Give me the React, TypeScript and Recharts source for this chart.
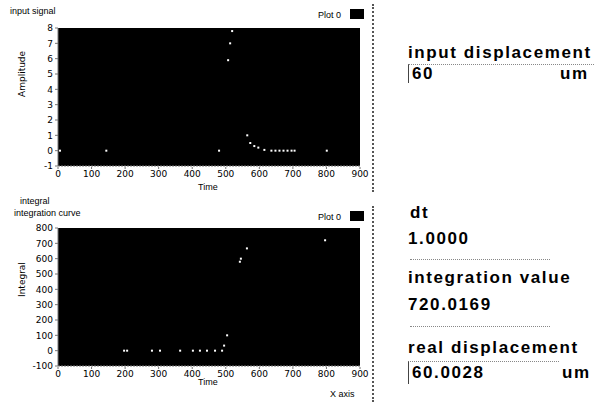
import React from 'react';
import { ScatterChart, Scatter, XAxis, YAxis, CartesianGrid } from 'recharts';

// input signal samples (time, value)
const signalTime = [6, 144, 480, 507, 513, 519, 564, 573, 585, 597, 615, 636, 648, 660, 672, 684, 696, 705, 801];
const signalValue = [0, 0, 0, 5.9, 7.0, 7.8, 1.0, 0.5, 0.3, 0.2, 0.05, 0, 0, 0, 0, 0, 0, 0, 0];

// integrated samples
const integTime = [197, 206, 280, 304, 364, 402, 423, 444, 468, 489, 495, 504, 542, 545, 563, 796];
const integValue = [0, 0, 0, 0, 0, 0, 0, 0, 0, 0, 33, 100, 580, 600, 667, 720];

const xTicks = [0, 100, 200, 300, 400, 500, 600, 700, 800, 900];
const signalTicks = [-1, 0, 1, 2, 3, 4, 5, 6, 7, 8];
const integTicks = [-100, 0, 100, 200, 300, 400, 500, 600, 700, 800];

const signalData = signalTime.map((t, i) => ({ t, v: signalValue[i] }));
const integData = integTime.map((t, i) => ({ t, v: integValue[i] }));

const Dot = (props: any) => {
  const { cx, cy } = props;
  return <rect x={cx - 1} y={cy - 1} width={2} height={2} fill="#fff" />;
};

const tickStyle = { fontSize: 9, fill: '#000', fontFamily: 'DejaVu Sans' };

interface GraphProps {
  data: { t: number; v: number }[];
  yTicks: number[];
  yLabel: string;
  top: number;
}

const Graph: React.FC<GraphProps> = ({ data, yTicks, yLabel, top }) => (
  <div style={{ position: 'absolute', left: 0, top }}>
    <ScatterChart width={375} height={195} margin={{ top: 28, right: 15, bottom: 0, left: 0 }}>
      <CartesianGrid fill="#000" stroke="#000" horizontal={false} vertical={false} />
      <XAxis
        type="number"
        dataKey="t"
        domain={[0, 900]}
        ticks={xTicks}
        height={29}
        tick={tickStyle}
        tickSize={3}
        stroke="#777"
        strokeDasharray="2 1"
        interval={0}
      />
      <YAxis
        type="number"
        dataKey="v"
        domain={[yTicks[0], yTicks[yTicks.length - 1]]}
        ticks={yTicks}
        width={58}
        tick={tickStyle}
        tickSize={3}
        stroke="#777"
        interval={0}
        label={{ value: yLabel, angle: -90, position: 'insideLeft', offset: 22, style: { fontSize: 9, fill: '#000', fontFamily: 'DejaVu Sans' } }}
      />
      <Scatter data={data} shape={<Dot />} isAnimationActive={false} />
    </ScatterChart>
  </div>
);

const txt = (s: React.CSSProperties): React.CSSProperties => ({
  position: 'absolute',
  fontFamily: 'Liberation Sans, Arial, sans-serif',
  color: '#000',
  whiteSpace: 'nowrap',
  ...s
});

const big = { fontSize: 17, fontWeight: 700 as const, letterSpacing: 1.6 };
const small = { fontSize: 9 };

export default function App() {
  return (
    <div style={{ position: 'fixed', left: 0, top: 0, width: 613, height: 405, background: '#fff', overflow: 'hidden' }}>
      <Graph data={signalData} yTicks={signalTicks} yLabel="Amplitude" top={0} />
      <Graph data={integData} yTicks={integTicks} yLabel="Integral" top={200} />

      {/* chart captions */}
      <div style={txt({ left: 10, top: 6, ...small })}>input signal</div>
      <div style={txt({ left: 198, top: 182, ...small })}>Time</div>
      <div style={txt({ left: 20, top: 196, ...small })}>integral</div>
      <div style={txt({ left: 14, top: 208, ...small })}>integration curve</div>
      <div style={txt({ left: 198, top: 377, ...small })}>Time</div>
      <div style={txt({ left: 330, top: 389, ...small })}>X axis</div>

      {/* plot legends */}
      <div style={txt({ left: 318, top: 10, ...small })}>Plot 0</div>
      <div style={{ position: 'absolute', left: 350, top: 9, width: 14, height: 10, background: '#000' }} />
      <div style={txt({ left: 318, top: 212, ...small })}>Plot 0</div>
      <div style={{ position: 'absolute', left: 350, top: 211, width: 14, height: 10, background: '#000' }} />

      {/* frame borders */}
      <div style={{ position: 'absolute', left: 372, top: 4, height: 188, borderLeft: '2px dotted #555' }} />
      <div style={{ position: 'absolute', left: 372, top: 206, height: 196, borderLeft: '2px dotted #555' }} />

      {/* indicators */}
      <div style={txt({ left: 408, top: 43, ...big })}>input displacement</div>
      <div style={{ position: 'absolute', left: 408, top: 64, width: 185, height: 18, borderLeft: '1px solid #444', borderTop: '1px dotted #888' }} />
      <div style={txt({ left: 412, top: 64, ...big })}>60</div>
      <div style={txt({ left: 560, top: 64, ...big })}>um</div>

      <div style={txt({ left: 410, top: 203, ...big })}>dt</div>
      <div style={txt({ left: 408, top: 229, ...big })}>1.0000</div>
      <div style={{ position: 'absolute', left: 410, top: 259, width: 140, borderTop: '1px dotted #888' }} />

      <div style={txt({ left: 408, top: 268, ...big })}>integration value</div>
      <div style={txt({ left: 408, top: 295, ...big })}>720.0169</div>
      <div style={{ position: 'absolute', left: 410, top: 326, width: 140, borderTop: '1px dotted #888' }} />

      <div style={txt({ left: 408, top: 338, ...big })}>real displacement</div>
      <div style={{ position: 'absolute', left: 408, top: 361, width: 150, height: 22, borderLeft: '1px solid #444', borderTop: '1px dotted #888' }} />
      <div style={txt({ left: 412, top: 363, ...big })}>60.0028</div>
      <div style={txt({ left: 562, top: 363, ...big })}>um</div>
    </div>
  );
}
